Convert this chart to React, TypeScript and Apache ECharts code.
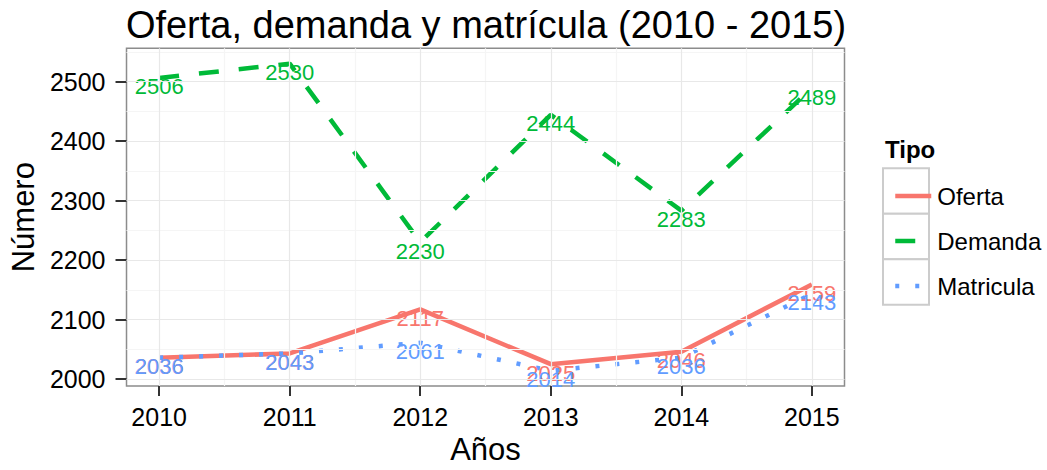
import React, { useEffect, useRef } from "react";
import * as echarts from "echarts";

const years = [2010, 2011, 2012, 2013, 2014, 2015];
const oferta = [2036, 2043, 2117, 2025, 2046, 2159];
const demanda = [2506, 2530, 2230, 2444, 2283, 2489];
const matricula = [2036, 2043, 2061, 2014, 2036, 2143];
const yTicks = [2000, 2100, 2200, 2300, 2400, 2500];
const yMinor = [2050, 2150, 2250, 2350, 2450, 2550];
const xMinor = [2010.5, 2011.5, 2012.5, 2013.5, 2014.5];
const seriesNames = ["Oferta", "Demanda", "Matricula"];
const colors = ["#F8766D", "#00BA38", "#619CFF"];

const FONT = "'Liberation Sans', Arial, sans-serif";

export default function App() {
  const ref = useRef<HTMLDivElement>(null);
  useEffect(() => {
    document.body.style.margin = "0";
    const chart = echarts.init(ref.current!, null, { renderer: "svg" });
    const major = { color: "#E8E8E8", width: 1.2, type: "solid" };
    const minor = { color: "#F5F5F5", width: 1.2, type: "solid" };
    const gridLines = [
      ...xMinor.map((v) => ({ xAxis: v, lineStyle: minor })),
      ...yMinor.map((v) => ({ yAxis: v, lineStyle: minor })),
      ...years.map((v) => ({ xAxis: v, lineStyle: major })),
      ...yTicks.map((v) => ({ yAxis: v, lineStyle: major })),
    ];
    const vals = [oferta, demanda, matricula];
    const dashes: any[] = ["solid", [20, 20], [4, 16]];
    const mk = (i: number) => ({
      name: seriesNames[i],
      type: "line",
      z: 3,
      color: colors[i],
      data: years.map((y, j) => [y, vals[i][j]]),
      symbol: "circle",
      symbolSize: 2,
      showSymbol: true,
      itemStyle: { color: "rgba(0,0,0,0)" },
      lineStyle: { color: colors[i], width: 4.5, type: dashes[i], cap: "butt" },
      label: {
        show: true,
        position: "inside",
        offset: [0, 9],
        color: colors[i],
        fontSize: 22,
        fontFamily: FONT,
        formatter: (p: any) => String(p.value[1]),
      },
      emphasis: { disabled: true },
      silent: true,
    });
    chart.setOption({
      animation: false,
      backgroundColor: "#fff",
      title: {
        text: "Oferta, demanda y matrícula (2010 - 2015)",
        left: 481,
        top: 1,
        textAlign: "center",
        textStyle: { fontSize: 38, fontWeight: "normal", color: "#000", fontFamily: FONT },
      },
      grid: {
        left: 118.5,
        top: 48.3,
        width: 726,
        height: 346,
        show: true,
        borderColor: "#8C8C8C",
        borderWidth: 1.5,
        backgroundColor: "#fff",
        z: 0,
      },
      xAxis: {
        type: "value",
        min: 2009.75,
        max: 2015.25,
        name: "Años",
        nameLocation: "middle",
        nameGap: 47,
        nameTextStyle: { fontSize: 31, color: "#000", fontFamily: FONT },
        axisLine: { show: false, onZero: false },
        splitLine: { show: false },
        axisTick: { show: true, length: 10, customValues: years, lineStyle: { color: "#333", width: 2 } },
        axisLabel: {
          customValues: years,
          margin: 18,
          fontSize: 25,
          color: "#000",
          fontFamily: FONT,
          formatter: (v: number) => String(v),
        },
      },
      yAxis: {
        type: "value",
        min: 1988.2,
        max: 2555.8,
        name: "Número",
        nameLocation: "middle",
        nameGap: 82,
        nameTextStyle: { fontSize: 31, color: "#000", fontFamily: FONT },
        axisLine: { show: false, onZero: false },
        splitLine: { show: false },
        axisTick: { show: true, length: 11, customValues: yTicks, lineStyle: { color: "#333", width: 2 } },
        axisLabel: {
          customValues: yTicks,
          margin: 21,
          fontSize: 25,
          color: "#000",
          fontFamily: FONT,
          formatter: (v: number) => String(v),
        },
      },
      legend: {
        data: seriesNames,
        orient: "vertical",
        left: 888,
        top: 179,
        itemWidth: 36,
        itemHeight: 14,
        itemGap: 21,
        z: 10,
        selectedMode: false,
        lineStyle: { width: 4.5 },
        textStyle: { fontSize: 24, color: "#000", fontFamily: FONT, padding: [0, 0, 0, 1] },
      },
      graphic: [
        {
          type: "text",
          x: 885,
          y: 149,
          z: 10,
          style: { text: "Tipo", font: `bold 24px ${FONT}`, fill: "#000", verticalAlign: "middle", align: "left" },
        },
        ...seriesNames.map((_, i) => ({
          type: "rect",
          z: 1,
          shape: { x: 883, y: 168.3 + i * 45.5, width: 46, height: 45.5 },
          style: { fill: "#fff", stroke: "#CCCCCC", lineWidth: 2 },
        })),
      ],
      series: [
        {
          name: "__grid",
          type: "line",
          z: 1,
          data: [],
          silent: true,
          markLine: {
            silent: true,
            symbol: ["none", "none"],
            label: { show: false },
            emphasis: { disabled: true },
            data: gridLines,
          },
        },
        mk(0),
        mk(1),
        mk(2),
      ],
    });
    return () => chart.dispose();
  }, []);
  return <div ref={ref} style={{ width: 1047, height: 470 }} />;
}
